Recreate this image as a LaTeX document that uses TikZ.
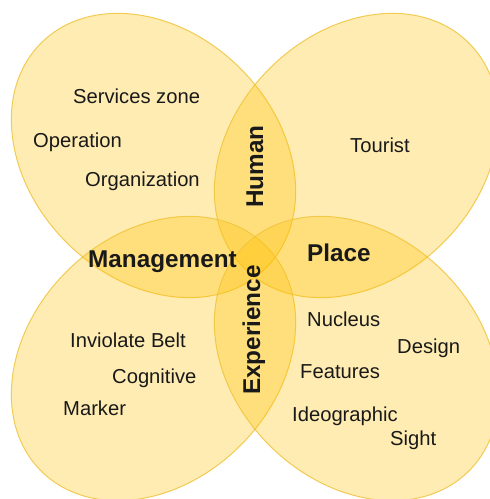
\documentclass[tikz,border=0pt]{standalone}
\usepackage{fontspec}
\setmainfont{Liberation Sans}
\definecolor{leaffill}{RGB}{255,192,0}
\definecolor{leafline}{RGB}{240,196,60}
\definecolor{txt}{RGB}{25,25,25}
\begin{document}
\begin{tikzpicture}[x=1pt,y=-1pt,
  leaf/.style={fill=leaffill,fill opacity=0.3,draw=leafline,draw opacity=0.85,line width=1pt},
  item/.style={anchor=base west,inner sep=0pt,text=txt,font=\fontsize{20.2}{24}\selectfont},
  theme/.style={anchor=base west,inner sep=0pt,text=txt,font=\fontsize{24.3}{28}\selectfont\bfseries}]
\useasboundingbox (0,0) rectangle (490,499);
\clip (0,0) rectangle (490,499);
\path[leaf,rotate around={-45:(153.5,155.5)}] (153.5,155.5) ellipse [x radius=159,y radius=123];
\path[leaf,rotate around={45:(356.5,155.5)}] (356.5,155.5) ellipse [x radius=159,y radius=123];
\path[leaf,rotate around={45:(153.5,358.5)}] (153.5,358.5) ellipse [x radius=159,y radius=123];
\path[leaf,rotate around={-45:(356.5,358.5)}] (356.5,358.5) ellipse [x radius=159,y radius=123];
% top-left
\node[item] (services) at (73,103) {Services zone};
\node[item] (operation) at (33,147) {Operation};
\node[item] (organization) at (85,186) {Organization};
% top-right
\node[item] (tourist) at (350,152) {Tourist};
% bottom-left
\node[item] (inviolate) at (70,347) {Inviolate Belt};
\node[item] (cognitive) at (112,383) {Cognitive};
\node[item] (marker) at (63,415) {Marker};
% bottom-right
\node[item] (nucleus) at (307,326) {Nucleus};
\node[item] (design) at (397,353) {Design};
\node[item] (features) at (300,378) {Features};
\node[item] (ideographic) at (292,421) {Ideographic};
\node[item] (sight) at (390,445) {Sight};
% themes
\node[theme] (management) at (88,267) {Management};
\node[theme] (place) at (307,261) {Place};
\node[theme,rotate=90] (human) at (263,208) {Human};
\node[theme,rotate=90] (experience) at (260,395) {Experience};
\end{tikzpicture}
\end{document}
